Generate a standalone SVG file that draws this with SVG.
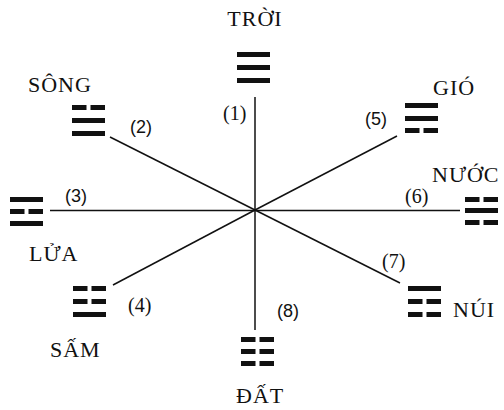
<svg xmlns="http://www.w3.org/2000/svg" xmlns:xlink="http://www.w3.org/1999/xlink" width="504" height="410" viewBox="0 0 504 410">
<style>
.lbl{font-family:"Liberation Serif","DejaVu Serif",serif;font-size:22px;letter-spacing:1px;fill:#111}
.ns{font-family:"Liberation Sans",Arial,sans-serif;font-size:18px;fill:#111}
.nr{font-family:"Liberation Serif",serif;font-size:20px;fill:#111}
.ln{stroke:#111;stroke-width:1.5;fill:none}
.bar{fill:#111}
</style>
<defs>
<rect id="yang" class="bar" width="33" height="5"/>
<g id="yin"><rect class="bar" width="14.5" height="5"/><rect class="bar" x="18.5" width="14.5" height="5"/></g>
</defs>
<rect width="504" height="410" fill="#fff"/>
<g id="connectors">
<line class="ln" x1="255" y1="97" x2="255" y2="330"/>
<line class="ln" x1="50" y1="210.5" x2="460" y2="210.5"/>
<line class="ln" x1="110" y1="137" x2="255" y2="210"/>
<line class="ln" x1="397" y1="136" x2="255" y2="210"/>
<line class="ln" x1="113" y1="285" x2="255" y2="210"/>
<line class="ln" x1="255" y1="210" x2="400" y2="283"/>
<text class="nr" x="223" y="120">(1)</text>
<text class="ns" x="130" y="133">(2)</text>
<text class="ns" x="65" y="202">(3)</text>
<text class="nr" x="128" y="312">(4)</text>
<text class="ns" x="365" y="125">(5)</text>
<text class="nr" x="405" y="203">(6)</text>
<text class="nr" x="382" y="268">(7)</text>
<text class="ns" x="277" y="317">(8)</text>
</g>
<g id="troi">
<text class="lbl" x="255" y="26" text-anchor="middle">TRỜI</text>
<use xlink:href="#yang" x="237" y="52"/><use xlink:href="#yang" x="237" y="65"/><use xlink:href="#yang" x="237" y="78"/>
</g>
<g id="song">
<text class="lbl" x="28" y="92">SÔNG</text>
<use xlink:href="#yin" x="72" y="105"/><use xlink:href="#yang" x="72" y="118"/><use xlink:href="#yang" x="72" y="131"/>
</g>
<g id="lua">
<text class="lbl" x="29" y="261">LỬA</text>
<use xlink:href="#yang" x="10" y="197"/><use xlink:href="#yin" x="10" y="209"/><use xlink:href="#yang" x="10" y="221"/>
</g>
<g id="sam">
<text class="lbl" x="50" y="357">SẤM</text>
<use xlink:href="#yin" x="73" y="286"/><use xlink:href="#yin" x="73" y="299"/><use xlink:href="#yang" x="73" y="312"/>
</g>
<g id="dat">
<text class="lbl" x="236" y="403">ĐẤT</text>
<use xlink:href="#yin" x="241" y="337"/><use xlink:href="#yin" x="241" y="349"/><use xlink:href="#yin" x="241" y="361"/>
</g>
<g id="gio">
<text class="lbl" x="433" y="95">GIÓ</text>
<use xlink:href="#yang" x="405" y="103"/><use xlink:href="#yang" x="405" y="116"/><use xlink:href="#yin" x="405" y="128"/>
</g>
<g id="nuoc">
<text class="lbl" x="432" y="182">NƯỚC</text>
<use xlink:href="#yin" x="465" y="197"/><use xlink:href="#yang" x="465" y="208"/><use xlink:href="#yin" x="465" y="220"/>
</g>
<g id="nui">
<text class="lbl" x="453" y="317">NÚI</text>
<use xlink:href="#yang" x="408" y="286"/><use xlink:href="#yin" x="408" y="299"/><use xlink:href="#yin" x="408" y="312"/>
</g>
</svg>
